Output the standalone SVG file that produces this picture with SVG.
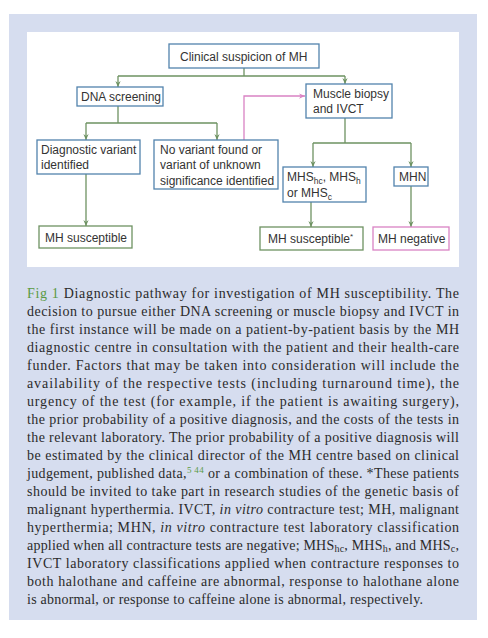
<svg xmlns="http://www.w3.org/2000/svg" width="488" height="638" viewBox="0 0 488 638">
<defs>
<style>
.bx{fill:#fff;stroke:#5283ad;stroke-width:1.3}
.bg{fill:#fff;stroke:#6e9262;stroke-width:1.3}
.bp{fill:#fff;stroke:#d983c4;stroke-width:1.3}
.t{font-family:"Liberation Sans",Arial,sans-serif;font-size:12px;fill:#333}
.c{fill:none;stroke:#6e9262;stroke-width:1.3}
.cp{fill:none;stroke:#d983c4;stroke-width:1.3}
.cap{font-family:"Liberation Serif","Times New Roman",serif;font-size:14px;fill:#2b2b2b}
.gr{fill:#5a9a44}
</style>
<marker id="ag" viewBox="0 0 8 8" refX="8" refY="4" markerWidth="6" markerHeight="6" markerUnits="userSpaceOnUse" orient="auto">
<path d="M0,0.5 L8,4 L0,7.5 L2.5,4 z" fill="#6e9262"/>
</marker>
<marker id="ap" viewBox="0 0 8 8" refX="8" refY="4" markerWidth="6" markerHeight="6" markerUnits="userSpaceOnUse" orient="auto">
<path d="M0,0.5 L8,4 L0,7.5 L2.5,4 z" fill="#d983c4"/>
</marker>
</defs>
<rect x="9" y="14" width="468" height="606" fill="#d6ddef"/>
<rect x="27" y="32" width="432" height="235" fill="#fff"/>

<g id="connectors">
<path class="c" d="M244,68 V76 M118,76 H345"/>
<path class="c" d="M118,76 V87" marker-end="url(#ag)"/>
<path class="c" d="M345,76 V84" marker-end="url(#ag)"/>
<path class="c" d="M118,106 V123 M86,123 H217"/>
<path class="c" d="M86,123 V140" marker-end="url(#ag)"/>
<path class="c" d="M217,123 V140" marker-end="url(#ag)"/>
<path class="cp" d="M244,140 V96 H305" marker-end="url(#ap)"/>
<path class="c" d="M345,118 V143 M313,143 H411"/>
<path class="c" d="M313,143 V167" marker-end="url(#ag)"/>
<path class="c" d="M411,143 V167" marker-end="url(#ag)"/>
<path class="c" d="M86,174 V226" marker-end="url(#ag)"/>
<path class="c" d="M311,202 V227" marker-end="url(#ag)"/>
<path class="c" d="M411,186 V227" marker-end="url(#ag)"/>
</g>

<g id="n-clinical">
<rect class="bx" x="169" y="44" width="150" height="24"/>
<text class="t" x="180" y="60.5">Clinical suspicion of MH</text>
</g>
<g id="n-dna">
<rect class="bx" x="77" y="87" width="86" height="19"/>
<text class="t" x="81" y="100.5">DNA screening</text>
</g>
<g id="n-muscle">
<rect class="bx" x="306" y="84" width="86" height="34"/>
<text class="t" x="313" y="98">Muscle biopsy</text>
<text class="t" x="313" y="113">and IVCT</text>
</g>
<g id="n-diag">
<rect class="bx" x="37" y="140" width="103" height="34"/>
<text class="t" x="41" y="153.5">Diagnostic variant</text>
<text class="t" x="41" y="168.5">identified</text>
</g>
<g id="n-novar">
<rect class="bx" x="154" y="140" width="124" height="49"/>
<text class="t" x="160" y="153.5">No variant found or</text>
<text class="t" x="160" y="169">variant of unknown</text>
<text class="t" x="160" y="184.5">significance identified</text>
</g>
<g id="n-mhs">
<rect class="bx" x="283" y="167" width="83" height="35"/>
<text class="t" x="287" y="181">MHS<tspan font-size="8.5" dy="3">hc</tspan><tspan dy="-3">, MHS</tspan><tspan font-size="8.5" dy="3">h</tspan></text>
<text class="t" x="287" y="196.5">or MHS<tspan font-size="8.5" dy="3">c</tspan></text>
</g>
<g id="n-mhn">
<rect class="bx" x="394" y="167" width="34" height="19"/>
<text class="t" x="399" y="181">MHN</text>
</g>
<g id="n-mhsus1">
<rect class="bg" x="39" y="226" width="93" height="22"/>
<text class="t" x="45" y="241.5">MH susceptible</text>
</g>
<g id="n-mhsus2">
<rect class="bg" x="260" y="227" width="103" height="23"/>
<text class="t" x="268" y="243">MH susceptible<tspan font-size="8" dy="-4">*</tspan></text>
</g>
<g id="n-mhneg">
<rect class="bp" x="373" y="227" width="76" height="23"/>
<text class="t" x="378" y="243">MH negative</text>
</g>

<g id="caption" class="cap">
<text x="27" y="298" textLength="432" lengthAdjust="spacing"><tspan class="gr">Fig 1</tspan> Diagnostic pathway for investigation of MH susceptibility. The</text>
<text x="27" y="316" textLength="432" lengthAdjust="spacing">decision to pursue either DNA screening or muscle biopsy and IVCT in</text>
<text x="27" y="334" textLength="432" lengthAdjust="spacing">the first instance will be made on a patient-by-patient basis by the MH</text>
<text x="27" y="352" textLength="432" lengthAdjust="spacing">diagnostic centre in consultation with the patient and their health-care</text>
<text x="27" y="370" textLength="432" lengthAdjust="spacing">funder. Factors that may be taken into consideration will include the</text>
<text x="27" y="388" textLength="432" lengthAdjust="spacing">availability of the respective tests (including turnaround time), the</text>
<text x="27" y="406" textLength="432" lengthAdjust="spacing">urgency of the test (for example, if the patient is awaiting surgery),</text>
<text x="27" y="424" textLength="432" lengthAdjust="spacing">the prior probability of a positive diagnosis, and the costs of the tests in</text>
<text x="27" y="442" textLength="432" lengthAdjust="spacing">the relevant laboratory. The prior probability of a positive diagnosis will</text>
<text x="27" y="460" textLength="432" lengthAdjust="spacing">be estimated by the clinical director of the MH centre based on clinical</text>
<text x="27" y="478" textLength="432" lengthAdjust="spacing">judgement, published data,<tspan class="gr" font-size="9" dy="-5">5 44</tspan><tspan dy="5"> or a combination of these. *These patients</tspan></text>
<text x="27" y="496" textLength="432" lengthAdjust="spacing">should be invited to take part in research studies of the genetic basis of</text>
<text x="27" y="514" textLength="432" lengthAdjust="spacing">malignant hyperthermia. IVCT, <tspan font-style="italic">in vitro</tspan> contracture test; MH, malignant</text>
<text x="27" y="532" textLength="432" lengthAdjust="spacing">hyperthermia; MHN, <tspan font-style="italic">in vitro</tspan> contracture test laboratory classification</text>
<text x="27" y="550" textLength="432" lengthAdjust="spacing">applied when all contracture tests are negative; MHS<tspan font-size="10" dy="2">hc</tspan><tspan dy="-2">, MHS</tspan><tspan font-size="10" dy="2">h</tspan><tspan dy="-2">, and MHS</tspan><tspan font-size="10" dy="2">c</tspan><tspan dy="-2">,</tspan></text>
<text x="27" y="568" textLength="432" lengthAdjust="spacing">IVCT laboratory classifications applied when contracture responses to</text>
<text x="27" y="586" textLength="432" lengthAdjust="spacing">both halothane and caffeine are abnormal, response to halothane alone</text>
<text x="27" y="604" textLength="396" lengthAdjust="spacing">is abnormal, or response to caffeine alone is abnormal, respectively.</text>
</g>
</svg>
